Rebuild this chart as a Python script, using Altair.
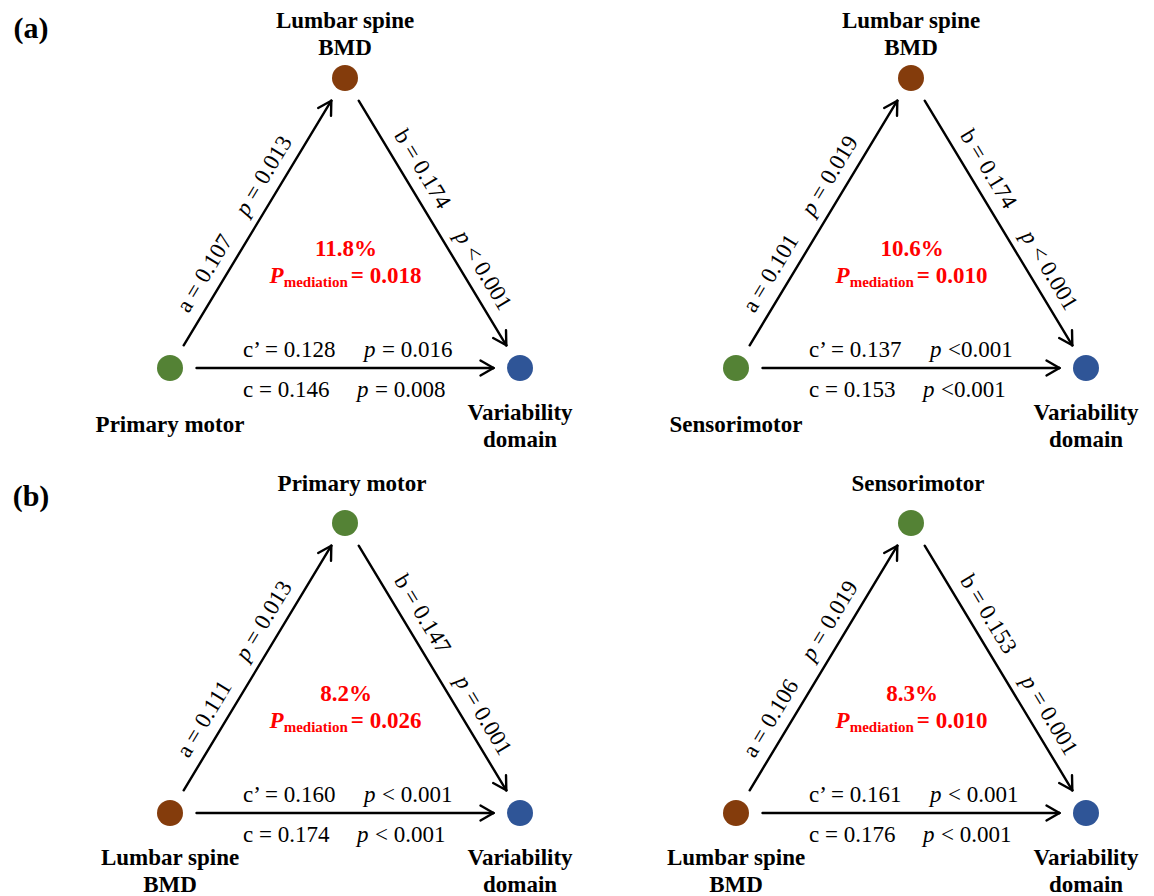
import math
import altair as alt
import pandas as pd

# ---------------- values ----------------
panel_letters = ["(a)", "(b)"]
top_names = [["Lumbar spine", "BMD"], ["Lumbar spine", "BMD"], ["Primary motor"], ["Sensorimotor"]]
left_names = [["Primary motor"], ["Sensorimotor"], ["Lumbar spine", "BMD"], ["Lumbar spine", "BMD"]]
right_names = [["Variability", "domain"]] * 4
top_role = ["bmd", "bmd", "brain", "brain"]
left_role = ["brain", "brain", "bmd", "bmd"]
right_role = ["outcome", "outcome", "outcome", "outcome"]

a_values = ["0.107", "0.101", "0.111", "0.106"]
a_pvalues = ["= 0.013", "= 0.019", "= 0.013", "= 0.019"]
b_values = ["0.174", "0.174", "0.147", "0.153"]
b_pvalues = ["< 0.001", "< 0.001", "= 0.001", "= 0.001"]
cprime_values = ["0.128", "0.137", "0.160", "0.161"]
cprime_pvalues = ["= 0.016", "<0.001", "< 0.001", "< 0.001"]
c_values = ["0.146", "0.153", "0.174", "0.176"]
c_pvalues = ["= 0.008", "<0.001", "< 0.001", "< 0.001"]
mediated_pct = ["11.8%", "10.6%", "8.2%", "8.3%"]
p_mediation = ["0.018", "0.010", "0.026", "0.010"]

# ---------------- layout / style ----------------
role_colors = {"bmd": "#843C0C", "brain": "#548235", "outcome": "#2F5597"}
panel_corner = [(170, 368), (736, 368), (170, 813), (736, 813)]
letter_pos = [(31, 38), (31, 506)]
TRI_W, TRI_H = 350, 290
NODE_D = 26
TRIM = 26.5
HEAD_LEN, HEAD_HALF = 13, 7.5
FS = 23
SUB_FS = 15
RED_FS = 23
P_DX = 18
PERP = 12
FONT = "Liberation Serif"

W_REG = {str(d): 500 for d in range(10)}
W_REG.update({".": 250, " ": 250, "=": 564, "<": 564, "a": 444, "b": 500,
              "c": 444, "\u2019": 333, "p": 500})
W_BOLD = {str(d): 500 for d in range(10)}
W_BOLD.update({".": 250, " ": 250, "=": 570, "m": 833, "e": 444, "d": 556,
               "i": 278, "a": 500, "t": 333, "o": 500, "n": 556, "%": 1000})


def tw(s, table, size):
    return sum(table.get(ch, 500) for ch in s) * size / 1000.0


rules, nodes = [], []
txt = {k: [] for k in ["label", "letter", "value", "pit", "prest",
                       "red_c", "red_P", "red_sub", "red_rest"]}


def add(kind, x, y, text, angle=0.0):
    txt[kind].append({"x": x, "y": y, "text": text, "angle": angle % 360})


for i, (lx, ly) in enumerate(panel_corner):
    L = (lx, ly)
    R = (lx + TRI_W, ly)
    T = (lx + TRI_W / 2, ly - TRI_H)
    nodes += [{"x": L[0], "y": L[1], "color": role_colors[left_role[i]]},
              {"x": R[0], "y": R[1], "color": role_colors[right_role[i]]},
              {"x": T[0], "y": T[1], "color": role_colors[top_role[i]]}]

    edges = {"a": (L, T), "b": (T, R), "c": (L, R)}
    geo = {}
    for name, (S, E) in edges.items():
        dx, dy = E[0] - S[0], E[1] - S[1]
        ln = math.hypot(dx, dy)
        u = (dx / ln, dy / ln)
        ang = math.degrees(math.atan2(u[1], u[0]))
        n = (math.sin(math.radians(ang)), -math.cos(math.radians(ang)))
        geo[name] = (S, u, n, ang)
        p0 = (S[0] + TRIM * u[0], S[1] + TRIM * u[1])
        tip = (E[0] - TRIM * u[0], E[1] - TRIM * u[1])
        rules.append({"x": p0[0], "y": p0[1], "x2": tip[0], "y2": tip[1]})
        for sgn in (1, -1):
            wx = tip[0] - HEAD_LEN * u[0] + sgn * HEAD_HALF * n[0]
            wy = tip[1] - HEAD_LEN * u[1] + sgn * HEAD_HALF * n[1]
            rules.append({"x": tip[0], "y": tip[1], "x2": wx, "y2": wy})

    def pt(name, along, perp):
        S, u, n, ang = geo[name]
        return (S[0] + along * u[0] + perp * n[0], S[1] + along * u[1] + perp * n[1])

    def diag_value(name, text, center):
        S, u, n, ang = geo[name]
        x, y = pt(name, center - tw(text, W_REG, FS) / 2, PERP)
        add("value", x, y, text, ang)

    def p_label(name, rest, start, perp):
        S, u, n, ang = geo[name]
        x, y = pt(name, start, perp)
        add("pit", x, y, "p", ang)
        add("prest", x, y, rest, ang)

    # a path
    diag_value("a", "a = " + a_values[i], 99)
    p_label("a", a_pvalues[i], 213 - (P_DX + tw(a_pvalues[i], W_REG, FS)) / 2, PERP)
    # b path
    diag_value("b", "b = " + b_values[i], 118)
    p_label("b", b_pvalues[i], 236 - (P_DX + tw(b_pvalues[i], W_REG, FS)) / 2, PERP)
    # c' and c paths
    x, y = pt("c", 73, 11)
    add("value", x, y, "c\u2019 = " + cprime_values[i])
    p_label("c", cprime_pvalues[i], 194, 11)
    x, y = pt("c", 73, -29)
    add("value", x, y, "c = " + c_values[i])
    p_label("c", c_pvalues[i], 187, -29)

    # node labels
    if len(top_names[i]) == 2:
        add("label", T[0], T[1] - 50, top_names[i][0])
        add("label", T[0], T[1] - 23, top_names[i][1])
    else:
        add("label", T[0] + 7, T[1] - 32, top_names[i][0])
    if len(left_names[i]) == 2:
        add("label", L[0], L[1] + 52, left_names[i][0])
        add("label", L[0], L[1] + 79, left_names[i][1])
    else:
        add("label", L[0], L[1] + 64, left_names[i][0])
    add("label", R[0], R[1] + 52, right_names[i][0])
    add("label", R[0], R[1] + 79, right_names[i][1])

    # mediation text
    add("red_c", T[0] + 1, T[1] + 178, mediated_pct[i])
    rest = "= " + p_mediation[i]
    wP = 0.611 * RED_FS
    wsub = tw("mediation", W_BOLD, SUB_FS)
    total = wP + wsub + 3 + tw(rest, W_BOLD, RED_FS)
    x0 = T[0] + 0.5 - total / 2
    add("red_P", x0, T[1] + 205, "P")
    add("red_sub", x0 + wP, T[1] + 209, "mediation")
    add("red_rest", x0 + wP + wsub + 3, T[1] + 205, rest)

for (lx, ly), letter in zip(letter_pos, panel_letters):
    add("letter", lx, ly, letter)

# ---------------- chart ----------------
xs = alt.Scale(domain=[8, 1146], nice=False, zero=False)
ys = alt.Scale(domain=[8, 896], nice=False, zero=False, reverse=True)
X = alt.X("x:Q", scale=xs, axis=None)
Y = alt.Y("y:Q", scale=ys, axis=None)

edges_layer = alt.Chart(pd.DataFrame(rules)).mark_rule(
    color="black", strokeWidth=2.4, strokeCap="round"
).encode(x=X, y=Y, x2="x2:Q", y2="y2:Q")

nodes_layer = alt.Chart(pd.DataFrame(nodes)).mark_point(
    shape="circle", filled=True, size=NODE_D * NODE_D, opacity=1
).encode(x=X, y=Y, color=alt.Color("color:N", scale=None))


def tlayer(kind, **kw):
    base = dict(font=FONT, baseline="alphabetic")
    base.update(kw)
    return alt.Chart(pd.DataFrame(txt[kind])).mark_text(**base).encode(
        x=X, y=Y, text="text:N", angle=alt.Angle("angle:Q", scale=None)
    )


layers = [
    edges_layer,
    nodes_layer,
    tlayer("label", fontSize=FS, fontWeight="bold", align="center", color="black"),
    tlayer("letter", fontSize=30, fontWeight="bold", align="center", color="black"),
    tlayer("value", fontSize=FS, align="left", color="black"),
    tlayer("pit", fontSize=FS, fontStyle="italic", align="left", color="black"),
    tlayer("prest", fontSize=FS, align="left", dx=P_DX, color="black"),
    tlayer("red_c", fontSize=RED_FS, fontWeight="bold", align="center", color="#FF0000"),
    tlayer("red_P", fontSize=RED_FS, fontWeight="bold", fontStyle="italic", align="left", color="#FF0000"),
    tlayer("red_sub", fontSize=SUB_FS, fontWeight="bold", align="left", color="#FF0000"),
    tlayer("red_rest", fontSize=RED_FS, fontWeight="bold", align="left", color="#FF0000"),
]

chart = alt.layer(*layers).properties(
    width=1138, height=888, padding=0,
    autosize=alt.AutoSizeParams(type="none"),
    background="white",
).configure_view(stroke=None)

chart.save("out.html", embed_options={"renderer": "svg", "actions": False})
